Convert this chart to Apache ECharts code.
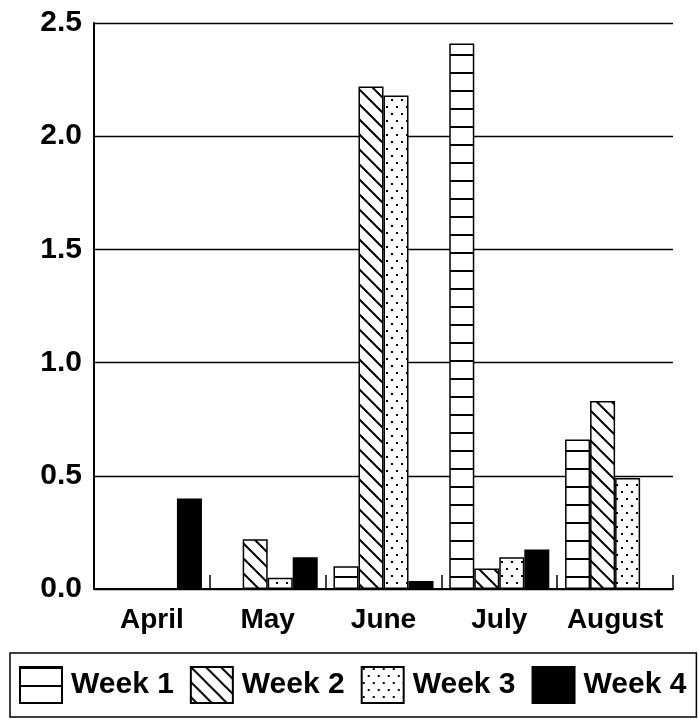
<!DOCTYPE html>
<html>
<head>
<meta charset="utf-8">
<script src="https://cdn.jsdelivr.net/npm/echarts@6/dist/echarts.min.js"></script>
<style>
html,body{margin:0;padding:0;background:#fff;}
#main{width:698px;height:719px;}
</style>
</head>
<body>
<div id="main"></div>
<script>
var categories = ['April', 'May', 'June', 'July', 'August'];
var week1 = [0, 0, 0.10, 2.41, 0.66];
var week2 = [0, 0.22, 2.22, 0.09, 0.83];
var week3 = [0, 0.05, 2.18, 0.14, 0.49];
var week4 = [0.40, 0.14, 0.035, 0.175, 0];
var seriesNames = ['Week 1', 'Week 2', 'Week 3', 'Week 4'];
var yTicks = [0, 0.5, 1.0, 1.5, 2.0, 2.5];

function makeCanvas(w, h, draw) {
  var c = document.createElement('canvas');
  c.width = w; c.height = h;
  var ctx = c.getContext('2d');
  ctx.fillStyle = '#fff';
  ctx.fillRect(0, 0, w, h);
  ctx.fillStyle = '#000';
  ctx.strokeStyle = '#000';
  draw(ctx, w, h);
  return { image: c, repeat: 'repeat' };
}
var patHoriz = makeCanvas(8, 18, function (ctx, w, h) {
  ctx.fillRect(0, 0, w, 2);
});
var patDiag = makeCanvas(15, 15, function (ctx, w, h) {
  ctx.lineWidth = 2;
  ctx.beginPath();
  ctx.moveTo(-2, -2); ctx.lineTo(w + 2, h + 2);
  ctx.moveTo(-2, h - 2); ctx.lineTo(2, h + 2);
  ctx.moveTo(w - 2, -2); ctx.lineTo(w + 2, 2);
  ctx.stroke();
});
var patDots = makeCanvas(10, 14, function (ctx, w, h) {
  ctx.fillRect(1, 1, 2, 2);
  ctx.fillRect(6, 8, 2, 2);
});
var fills = [patHoriz, patDiag, patDots, '#000'];
var dataSets = [week1, week2, week3, week4];

var chart = echarts.init(document.getElementById('main'));
var fontFam = '"Liberation Sans", Arial, Helvetica, sans-serif';
chart.setOption({
  animation: false,
  backgroundColor: '#fff',
  grid: { left: 94, right: 25, top: 23, bottom: 130 },
  legend: {
    data: seriesNames,
    left: 10,
    top: 653,
    icon: 'rect',
    itemWidth: 42,
    itemHeight: 36,
    itemGap: 16,
    padding: [13, 10, 13, 9],
    borderColor: '#000',
    borderWidth: 1.5,
    textStyle: { fontSize: 30, color: '#000', fontFamily: fontFam, fontWeight: 'bold', padding: [0, 0, 0, 4] }
  },
  xAxis: {
    type: 'category',
    data: categories,
    axisLine: { lineStyle: { color: '#000', width: 2 } },
    axisTick: { show: true, inside: true, length: 14, interval: 0, lineStyle: { color: '#000', width: 1.5 } },
    axisLabel: { interval: 0, fontSize: 28, color: '#000', fontFamily: fontFam, fontWeight: 'bold', margin: 17 },
    splitLine: { show: false }
  },
  yAxis: {
    type: 'value',
    min: yTicks[0],
    max: yTicks[yTicks.length - 1],
    interval: 0.5,
    axisLine: { show: true, lineStyle: { color: '#000', width: 2 } },
    axisTick: { show: false },
    axisLabel: { fontSize: 30, color: '#000', fontFamily: fontFam, fontWeight: 'bold', margin: 12,
      formatter: function (v) { return v.toFixed(1); } },
    splitLine: { show: true, lineStyle: { color: '#000', width: 1.3 } }
  },
  series: dataSets.map(function (d, i) {
    return {
      name: seriesNames[i],
      type: 'bar',
      data: d,
      barGap: '0%',
      barCategoryGap: '13.6%',
      itemStyle: { color: fills[i], borderColor: '#000', borderWidth: 1.5 }
    };
  })
});
</script>
</body>
</html>
